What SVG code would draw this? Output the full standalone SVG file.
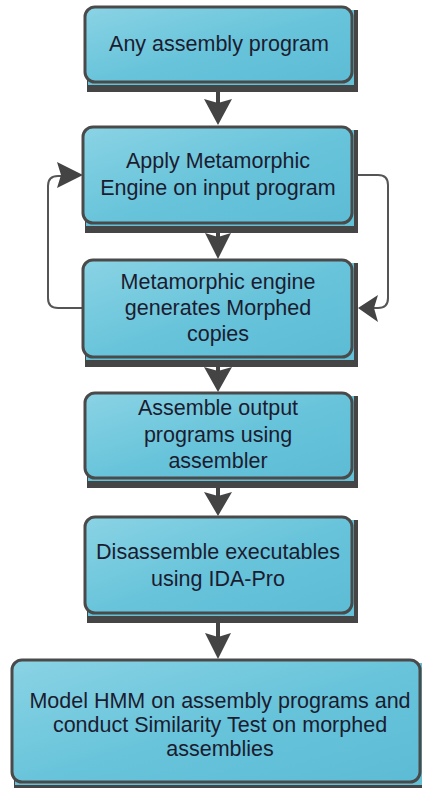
<svg xmlns="http://www.w3.org/2000/svg" width="422" height="788" viewBox="0 0 422 788">
<defs>
<linearGradient id="g" x1="0" y1="0" x2="1" y2="1">
<stop offset="0" stop-color="#8ad3e4"/>
<stop offset="0.55" stop-color="#66c3da"/>
<stop offset="1" stop-color="#5dbcd5"/>
</linearGradient>
<style>
.sh{fill:#454545}
.bk{fill:#62c0d7}
.bx{fill:url(#g);stroke:#4a4a4a;stroke-width:3}
.t{font-family:"Liberation Sans",Arial,sans-serif;font-size:21.5px;fill:#1c1c30;text-anchor:middle}
.c{fill:none;stroke:#444;stroke-width:4}
.l{fill:none;stroke:#555;stroke-width:2}
.ah{fill:#444}
</style>
</defs>
<rect width="422" height="788" fill="#fff"/>
<g id="connectors">
<line class="c" x1="218" y1="82" x2="218" y2="105"/>
<polygon class="ah" points="204,99 218,103 232,99 218,125"/>
<line class="c" x1="218" y1="223" x2="218" y2="238"/>
<polygon class="ah" points="205,233 218,237 231,233 218,259"/>
<line class="c" x1="218" y1="357" x2="218" y2="372"/>
<polygon class="ah" points="204,367 218,371 232,367 218,392"/>
<line class="c" x1="218" y1="478" x2="218" y2="498"/>
<polygon class="ah" points="204,492 218,496 232,492 218,516"/>
<line class="c" x1="218" y1="613" x2="218" y2="640"/>
<polygon class="ah" points="205,633 218,637 231,633 218,659"/>
<path class="l" d="M83,308 H58 Q48,308 48,298 V186 Q48,176 58,176 H62"/>
<polygon class="ah" points="57,162 61,175 57,188 83,175"/>
<path class="l" d="M358,175 H378 Q388,175 388,185 V298 Q388,308 378,308 H374"/>
<polygon class="ah" points="378,295 374,308 378,322 358,308"/>
</g>
<g id="n1">
<rect class="sh" x="87" y="10" width="271" height="82"/>
<rect class="bk" x="88" y="10" width="266" height="75"/>
<rect class="bx" x="85" y="7" width="267" height="75" rx="10"/>
<text class="t" x="219" y="51">Any assembly program</text>
</g>
<g id="n2">
<rect class="sh" x="85" y="130" width="273" height="103"/>
<rect class="bk" x="86" y="130" width="268" height="96"/>
<rect class="bx" x="83" y="127" width="269" height="96" rx="10"/>
<text class="t" x="218" y="168">Apply Metamorphic</text>
<text class="t" x="218" y="195">Engine on input program</text>
</g>
<g id="n3">
<rect class="sh" x="85" y="263" width="273" height="104"/>
<rect class="bk" x="86" y="263" width="268" height="97"/>
<rect class="bx" x="83" y="260" width="269" height="97" rx="10"/>
<text class="t" x="218" y="289">Metamorphic engine</text>
<text class="t" x="218" y="315">generates Morphed</text>
<text class="t" x="218" y="341">copies</text>
</g>
<g id="n4">
<rect class="sh" x="87" y="396" width="271" height="92"/>
<rect class="bk" x="88" y="396" width="266" height="85"/>
<rect class="bx" x="85" y="393" width="267" height="85" rx="10"/>
<text class="t" x="218" y="415">Assemble output</text>
<text class="t" x="218" y="442">programs using</text>
<text class="t" x="218" y="468">assembler</text>
</g>
<g id="n5">
<rect class="sh" x="87" y="520" width="271" height="103"/>
<rect class="bk" x="88" y="520" width="266" height="96"/>
<rect class="bx" x="85" y="517" width="267" height="96" rx="10"/>
<text class="t" x="218" y="559">Disassemble executables</text>
<text class="t" x="218" y="586">using IDA-Pro</text>
</g>
<g id="n6">
<rect class="sh" x="14" y="663" width="412" height="125"/>
<rect class="bk" x="15" y="663" width="408" height="122"/>
<rect class="bx" x="12" y="660" width="408" height="122" rx="10"/>
<text class="t" x="220" y="708">Model HMM on assembly programs and</text>
<text class="t" x="220" y="732">conduct Similarity Test on morphed</text>
<text class="t" x="220" y="756">assemblies</text>
</g>
</svg>
